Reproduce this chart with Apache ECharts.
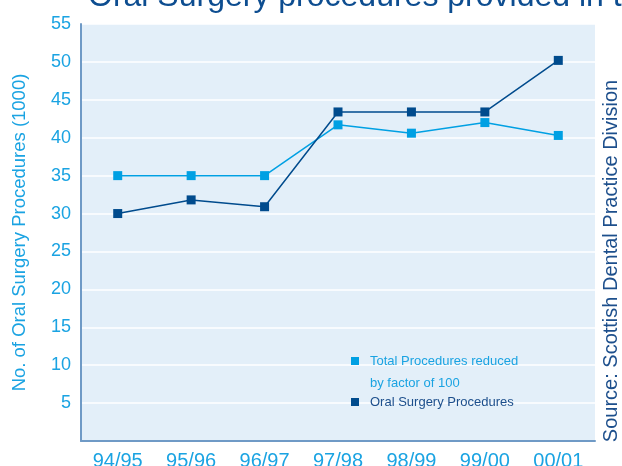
<!DOCTYPE html>
<html>
<head>
<meta charset="utf-8">
<script src="https://cdn.jsdelivr.net/npm/echarts@6/dist/echarts.min.js"></script>
<style>
  html, body { margin: 0; padding: 0; background: #fff; }
  #main { width: 622px; height: 466px; }
</style>
</head>
<body>
<div id="main"></div>
<script>
const categories = ['94/95', '95/96', '96/97', '97/98', '98/99', '99/00', '00/01']
const totalReduced = [35, 35, 35, 41.7, 40.6, 42.0, 40.3]
const oralSurgery = [30, 31.8, 30.9, 43.4, 43.4, 43.4, 50.2]

const lightBlue = '#00A0E3'
const navy = '#004B8D'
const font = 'Liberation Sans, Arial, sans-serif'

const chart = echarts.init(document.getElementById('main'))

chart.setOption({
	animation: false,
	title: {
		text: 'Oral Surgery procedures provided in the period 1994/95 to 2000/01',
		left: 83,
		top: -24,
		textStyle: { color: '#0D4D90', fontSize: 32, fontWeight: 'normal', fontFamily: font }
	},
	// two legends; the first icon is a tall path with the square at its top
	// so it lines up with the first line of the wrapped text
	legend: [
		{
			data: [{ name: 'Total Procedures reduced by factor of 100', textStyle: { color: '#1AA3E2' } }],
			left: 351,
			top: 350,
			padding: 0,
			itemWidth: 8,
			itemHeight: 30,
			icon: 'path://M0,0L8,0L8,8L0,8Z M0,30L0,30',
			formatter: () => 'Total Procedures reduced\nby factor of 100',
			textStyle: { fontSize: 13, fontFamily: font, lineHeight: 22, padding: [0, 0, 0, 6] }
		},
		{
			data: [{ name: 'Oral Surgery Procedures', textStyle: { color: '#1D4F8C' } }],
			left: 351,
			top: 391,
			padding: 0,
			itemWidth: 8,
			itemHeight: 8,
			icon: 'rect',
			textStyle: { fontSize: 13, fontFamily: font, lineHeight: 22, padding: [0, 0, 0, 6] }
		}
	],
	grid: {
		left: 81,
		right: 27,
		top: 24,
		bottom: 25,
		outerBoundsMode: 'none',
		show: true,
		backgroundColor: '#E3EFF9',
		borderWidth: 0
	},
	xAxis: {
		type: 'category',
		data: categories,
		boundaryGap: true,
		axisLine: { lineStyle: { color: '#6F9AC6', width: 2 } },
		axisTick: { show: false },
		axisLabel: { color: '#1AA3E2', fontSize: 20, fontFamily: font, margin: 10 }
	},
	yAxis: {
		type: 'value',
		min: 0,
		max: 55,
		interval: 5,
		name: 'No. of Oral Surgery Procedures (1000)',
		nameLocation: 'middle',
		nameRotate: 90,
		nameGap: 52,
		nameTextStyle: { color: '#1AA3E2', fontSize: 18.5, fontFamily: font },
		axisLine: { show: true, lineStyle: { color: '#6F9AC6', width: 2 } },
		axisTick: { show: false },
		splitLine: { lineStyle: { color: '#ffffff', width: 1.5 } },
		axisLabel: {
			color: '#1AA3E2',
			fontSize: 18,
			fontFamily: font,
			margin: 10,
			formatter: v => (v === 0 ? '' : v)
		}
	},
	graphic: [
		{
			type: 'text',
			x: 611,
			y: 261,
			rotation: Math.PI / 2,
			style: {
				text: 'Source: Scottish Dental Practice Division',
				fill: '#1D4F8C',
				fontSize: 20,
				fontFamily: font,
				align: 'center',
				verticalAlign: 'middle'
			}
		}
	],
	series: [
		{
			name: 'Total Procedures reduced by factor of 100',
			type: 'line',
			data: totalReduced,
			symbol: 'rect',
			symbolSize: 9,
			itemStyle: { color: lightBlue },
			lineStyle: { color: lightBlue, width: 1.5 }
		},
		{
			name: 'Oral Surgery Procedures',
			type: 'line',
			data: oralSurgery,
			symbol: 'rect',
			symbolSize: 9,
			itemStyle: { color: navy },
			lineStyle: { color: navy, width: 1.5 }
		}
	]
})
</script>
</body>
</html>
